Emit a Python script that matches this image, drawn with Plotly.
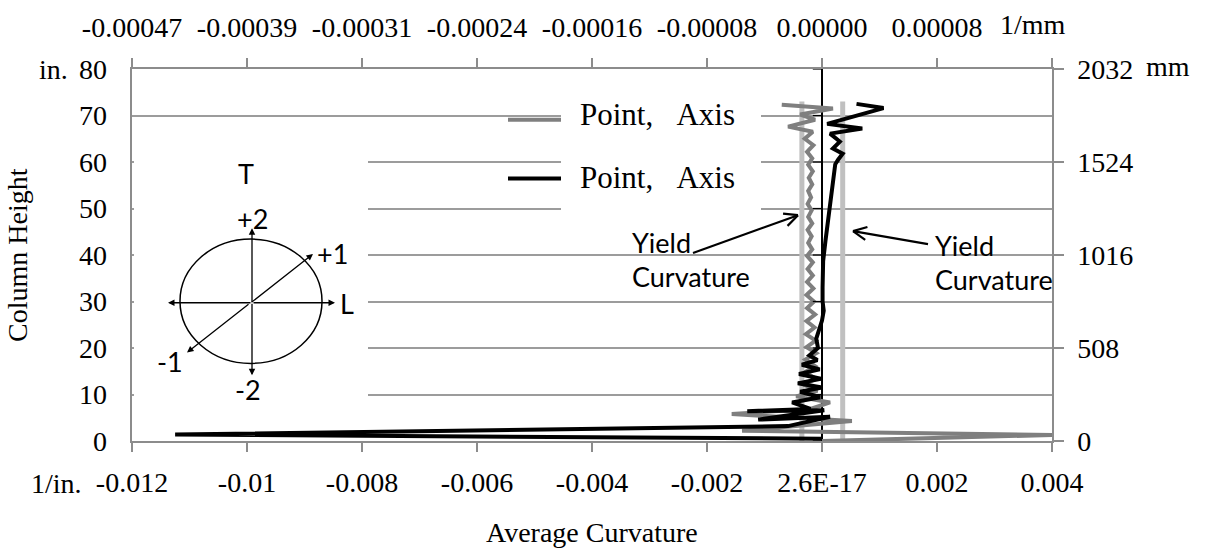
import math
import plotly.graph_objects as go

# ---------------- data ----------------
height_gray = [0, 1.3, 2.2, 4.3, 5.8, 6.9, 8.3, 9.6, 10.8, 12.1, 13.4, 14.8, 16.1, 17.5, 18.9,
               20.2, 21.6, 23.0, 24.4, 25.8, 27.2, 28.6, 30.0, 31.4, 32.8, 34.2, 35.6, 37.0,
               38.4, 39.8, 41.2, 42.6, 44.0, 45.4, 46.8, 48.2, 49.6, 51.0, 52.4, 53.8, 55.2,
               56.6, 58.0, 59.4, 60.8, 62.2, 63.6, 65.0, 66.5, 67.6, 69.1, 70.2, 71.5, 72.3]
curv_gray = [0.0, 0.0040, -0.00139, 0.00052, -0.00157, -0.00020, 0.00014, -0.00045, -0.00008,
             -0.00032, -0.00010, -0.00030, -0.00012, -0.00029, -0.00010, -0.00027, -0.00011,
             -0.00028, -0.00013, -0.00027, -0.00012, -0.00026, -0.00014, -0.00027, -0.00015,
             -0.00026, -0.00016, -0.00025, -0.00016, -0.00026, -0.00017, -0.00024, -0.00018,
             -0.00025, -0.00017, -0.00024, -0.00018, -0.00025, -0.00019, -0.00024, -0.00017,
             -0.00023, -0.00016, -0.00024, -0.00017, -0.00026, -0.00015, -0.00030, -0.00016,
             -0.00059, -0.00012, -0.00038, 0.00019, -0.00070]

height_black = [0.5, 1.4, 3.2, 5.2, 4.6, 6.6, 6.4, 6.9, 8.3, 9.4, 10.6, 11.5, 12.4, 13.4, 14.4,
                15.4, 16.4, 17.4, 18.4, 20.0, 22.0, 24.4, 25.9, 28.0, 30.0, 33.0, 36.6, 38.7,
                43.0, 46.6, 50.0, 53.7, 57.0, 59.5, 60.5, 61.8, 62.9, 64.4, 66.1, 67.2, 68.2,
                71.6, 72.5]
curv_black = [0.0, -0.01125, -0.00059, 0.00014, -0.00111, 0.00004, -0.00130, -0.00020, -0.00052,
              -0.00003, -0.00038, 0.00000, -0.00042, -0.00002, -0.00040, -0.00004, -0.00035,
              -0.00008, -0.00022, -0.00007, -0.00010, -0.00003, 0.00000, 0.00003, 0.00001,
              0.00001, 0.00002, 0.00002, 0.00006, 0.00010, 0.00013, 0.00017, 0.00020, 0.00023,
              0.00028, 0.00036, 0.00019, 0.00031, 0.00014, 0.00070, 0.00009, 0.00107, 0.00060]

yield_curv = [-0.00035, 0.00036]
yield_height = [0, 73]

x_ticks = [-0.012, -0.01, -0.008, -0.006, -0.004, -0.002, 0, 0.002, 0.004]
x_tick_text = ["-0.012", "-0.01", "-0.008", "-0.006", "-0.004", "-0.002", "2.6E-17", "0.002", "0.004"]
x_top_text = ["-0.00047", "-0.00039", "-0.00031", "-0.00024", "-0.00016", "-0.00008", "0.00000", "0.00008", ""]
y_ticks = [0, 10, 20, 30, 40, 50, 60, 70, 80]
y_right_ticks = [0, 20, 40, 60, 80]
y_right_text = ["0", "508", "1016", "1524", "2032"]

# ---------------- geometry helpers ----------------
W, H = 1205, 550
L, R, T, B = 132, 1052, 67, 441


def px(x):
    return (x - L) / (R - L)


def py(y):
    return (B - y) / (B - T)


SERIF = "Liberation Serif"
SANS = "Lato"
AX = "#8c8c8c"
GRID = "#9c9c9c"

fig = go.Figure()

for v in yield_curv:
    fig.add_trace(go.Scatter(x=[v, v], y=yield_height, mode="lines",
                             line=dict(color="#c0c0c0", width=5),
                             name="Yield Curvature", showlegend=False, hoverinfo="skip"))

fig.add_trace(go.Scatter(x=curv_gray, y=height_gray, mode="lines",
                         line=dict(color="#7f7f7f", width=4), name="Point, Axis (gray)",
                         showlegend=False))
fig.add_trace(go.Scatter(x=curv_black, y=height_black, mode="lines",
                         line=dict(color="#000000", width=4), name="Point, Axis (black)",
                         showlegend=False))
# empty trace so the secondary (mm) axes are drawn
fig.add_trace(go.Scatter(x=[], y=[], xaxis="x2", yaxis="y2", mode="lines",
                         showlegend=False, hoverinfo="skip"))

shapes = []
annotations = []
tick_font = dict(family=SERIF, size=28, color="black")

# left (inch) tick labels
for yv in y_ticks:
    annotations.append(dict(x=px(109), y=yv, xref="paper", yref="y", text=str(yv),
                            showarrow=False, xanchor="right", yanchor="middle",
                            font=tick_font))

# small black ticks on the zero axis
for yv in y_ticks:
    shapes.append(dict(type="line", xref="x", yref="y", x0=-0.00016, x1=0, y0=yv, y1=yv,
                       line=dict(color="black", width=1.2)))

# white box behind inset and legend
shapes.append(dict(type="rect", xref="paper", yref="paper", x0=px(134), x1=px(368),
                   y0=py(405), y1=py(125), fillcolor="white", line=dict(width=0)))
shapes.append(dict(type="rect", xref="paper", yref="paper", x0=px(561), x1=px(761),
                   y0=py(228), y1=py(92), fillcolor="white", line=dict(width=0)))

# legend samples
shapes.append(dict(type="line", xref="paper", yref="paper", x0=px(508), x1=px(561),
                   y0=py(118), y1=py(118), line=dict(color="#7f7f7f", width=4)))
shapes.append(dict(type="line", xref="paper", yref="paper", x0=px(508), x1=px(561),
                   y0=py(177), y1=py(177), line=dict(color="black", width=4)))
for yy in (113, 176):
    annotations.append(dict(x=px(578), y=py(yy), xref="paper", yref="paper", xanchor="left",
                            yanchor="middle", showarrow=False,
                            text="Point,\u00a0\u00a0\u00a0Axis",
                            font=dict(family=SERIF, size=31, color="black")))

# inset diagram
shapes.append(dict(type="circle", xref="paper", yref="paper", x0=px(180), x1=px(322),
                   y0=py(363), y1=py(238), line=dict(color="black", width=1.5)))
cx, cy = 252, 302
for ex, ey in [(168, 302), (335, 302), (252, 227), (252, 375)]:
    annotations.append(dict(x=px(ex), y=py(ey), xref="paper", yref="paper", text="",
                            showarrow=True, ax=cx - ex, ay=cy - ey, arrowhead=2,
                            arrowsize=1, arrowwidth=1.3, arrowcolor="black"))
for ex, ey in [(313, 253), (187, 352)]:
    annotations.append(dict(x=px(ex), y=py(ey), xref="paper", yref="paper", text="",
                            showarrow=True, ax=250 - ex, ay=302.5 - ey, arrowhead=2,
                            arrowsize=1, arrowwidth=1.3, arrowcolor="black"))
for txt, lx, ly in [("T", 246, 172), ("+2", 252, 217), ("+1", 332, 252), ("L", 347, 303),
                    ("-1", 170, 361), ("-2", 248, 389)]:
    annotations.append(dict(x=px(lx), y=py(ly), xref="paper", yref="paper", text=txt,
                            showarrow=False, xanchor="center", yanchor="middle",
                            font=dict(family=SANS, size=27, color="black")))


# yield curvature arrows (open V heads)
def arrow(tx, ty, hx, hy, size=15):
    shapes.append(dict(type="line", xref="paper", yref="paper", x0=px(tx), y0=py(ty),
                       x1=px(hx), y1=py(hy), line=dict(color="black", width=2.2)))
    ang = math.atan2(ty - hy, tx - hx)
    for d in (0.45, -0.45):
        ex = hx + size * math.cos(ang + d)
        ey = hy + size * math.sin(ang + d)
        shapes.append(dict(type="line", xref="paper", yref="paper", x0=px(hx), y0=py(hy),
                           x1=px(ex), y1=py(ey), line=dict(color="black", width=2.2)))


arrow(693, 252, 798, 214)
arrow(928, 243, 853, 230)

for txt, lx, ly in [("Yield", 630, 241), ("Curvature", 630, 276),
                    ("Yield", 933, 244), ("Curvature", 933, 279)]:
    annotations.append(dict(x=px(lx), y=py(ly), xref="paper", yref="paper", text=txt,
                            showarrow=False, xanchor="left", yanchor="middle",
                            font=dict(family=SANS, size=27, color="black")))

# unit labels and titles
for txt, lx, ly, anc in [("1/in.", 84, 484, "right"), ("in.", 37, 68, "left"),
                         ("1/mm", 998, 22, "left"), ("mm", 1144, 64, "left")]:
    annotations.append(dict(x=px(lx), y=py(ly), xref="paper", yref="paper", text=txt,
                            showarrow=False, xanchor=anc, yanchor="middle", font=tick_font))
annotations.append(dict(x=px(592), y=py(533), xref="paper", yref="paper",
                        text="Average Curvature", showarrow=False, xanchor="center",
                        yanchor="middle", font=tick_font))
annotations.append(dict(x=px(17), y=py(254), xref="paper", yref="paper",
                        text="Column Height", showarrow=False, textangle=-90,
                        xanchor="center", yanchor="middle", font=tick_font))

fig.update_layout(
    width=W, height=H, autosize=False,
    margin=dict(l=L, r=W - R, t=T, b=H - B, pad=0),
    paper_bgcolor="white", plot_bgcolor="white",
    showlegend=False,
    xaxis=dict(range=[-0.012, 0.004], tickvals=x_ticks, ticktext=x_tick_text,
               ticks="outside", ticklen=9, tickcolor=AX, tickwidth=1.5,
               ticklabelstandoff=7,
               showline=True, linecolor=AX, linewidth=1.5, showgrid=False,
               zeroline=True, zerolinecolor="black", zerolinewidth=1.5,
               tickfont=tick_font, fixedrange=True),
    xaxis2=dict(range=[-0.012, 0.004], tickvals=x_ticks, ticktext=x_top_text,
                overlaying="x", side="top", anchor="y2",
                ticks="outside", ticklen=9, tickcolor=AX, tickwidth=1.5,
                ticklabelstandoff=10,
                showline=True, linecolor=AX, linewidth=1.5, showgrid=False,
                zeroline=False, tickfont=tick_font, fixedrange=True),
    yaxis=dict(range=[0, 80], tickvals=y_ticks, ticks="", showticklabels=False,
               showline=True, linecolor=AX,
               linewidth=1.5, showgrid=True, gridcolor=GRID, gridwidth=1.5,
               zeroline=False, fixedrange=True),
    yaxis2=dict(range=[0, 80], tickvals=y_right_ticks, ticktext=y_right_text,
                overlaying="y", side="right", anchor="x2",
                ticks="outside", ticklen=10, tickcolor=AX, tickwidth=1.5,
                ticklabelstandoff=8,
                showline=True, linecolor=AX, linewidth=1.5, showgrid=False,
                zeroline=False, tickfont=tick_font, fixedrange=True),
    shapes=shapes,
    annotations=annotations,
)

fig.write_html("out.html")
